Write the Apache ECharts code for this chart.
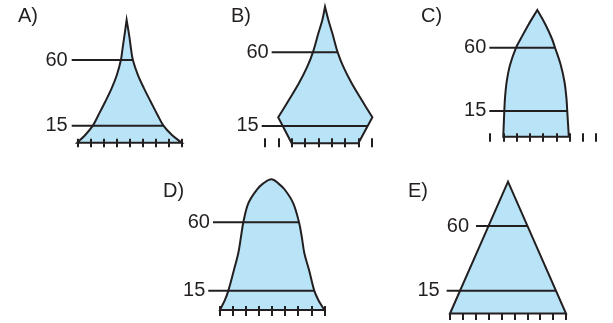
<!DOCTYPE html>
<html>
<head>
<meta charset="utf-8">
<script src="https://cdn.jsdelivr.net/npm/echarts@6/dist/echarts.min.js"></script>
<style>
  html, body { margin: 0; padding: 0; background: #fff; }
  #chart { width: 613px; height: 323px; }
</style>
</head>
<body>
<div id="chart"></div>
<script>
// age marks shown on every pyramid
const ageMarks = ['15', '60'];

// A - height (0 = base, 100 = top) and left / right edge (population units)
const heightA = [0, 6.3, 13.9, 22.6, 33.4, 44.3, 55.2, 67.4, 76.9, 87.8, 100];
const leftA = [0, 0.61, 1.19, 1.62, 2.14, 2.63, 3.03, 3.34, 3.47, 3.62, 3.78];
const rightA = [8, 7.25, 6.6, 6.15, 5.63, 5.11, 4.64, 4.26, 4.11, 3.97, 3.78];
const levelA = [13.9, 67.4];

// B
const heightB = [0, 19.0, 31.7, 43.9, 56.1, 66.6, 80.5, 90.3, 100];
const leftB = [2.0, 0.99, 1.79, 2.54, 3.17, 3.59, 4.00, 4.30, 4.5];
const rightB = [7.0, 8.05, 7.25, 6.50, 5.87, 5.45, 5.05, 4.75, 4.5];
const levelB = [12.7, 66.6];

// C
const heightC = [0, 20.3, 30.3, 43.4, 56.6, 70.2, 77.7, 88.2, 100];
const leftC = [1.0, 1.08, 1.13, 1.26, 1.51, 1.96, 2.34, 2.89, 3.57];
const rightC = [5.95, 5.83, 5.77, 5.62, 5.34, 4.91, 4.66, 4.20, 3.57];
const levelC = [20.3, 70.2];

// D
const heightD = [0, 7.7, 14.8, 30.6, 43.4, 56.1, 67.1, 81.6, 91.8, 96.9, 100];
const leftD = [0, 0.38, 0.64, 1.07, 1.40, 1.61, 1.79, 2.17, 2.81, 3.32, 3.95];
const rightD = [8, 7.54, 7.23, 6.83, 6.47, 6.27, 6.06, 5.62, 4.99, 4.47, 3.95];
const levelD = [14.8, 67.1];

// E
const heightE = [0, 100];
const leftE = [0, 4.5];
const rightE = [9, 4.5];
const levelE = [17.3, 66.4];

const ink = '#231f20';
const skyFill = '#b9e3f7';
const font = '20px "Liberation Sans", Arial, sans-serif';

const panels = [
  { name: 'A)', h: heightA, left: leftA, right: rightA, levels: levelA, ticks: 8,
    grid: { left: 77.3, top: 20, width: 104.4, height: 122.7 },
    tickOffset: -4, tickLen: 8.5, guideFrom: [-0.43, -0.43], labelGap: 4, title: [18, 16] },
  { name: 'B)', h: heightB, left: leftB, right: rightB, levels: levelB, ticks: 8, kinks: [1],
    grid: { left: 265, top: 6.7, width: 106.7, height: 136.6 },
    tickOffset: -5, tickLen: 9, guideFrom: [-0.25, 0.5], labelGap: 3, title: [231, 16] },
  { name: 'C)', h: heightC, left: leftC, right: rightC, levels: levelC, ticks: 8,
    grid: { left: 490, top: 10, width: 106, height: 126.7 },
    tickOffset: -3.5, tickLen: 8.5, guideFrom: [-0.05, -0.05], labelGap: 3, title: [421, 16.5] },
  { name: 'D)', h: heightD, left: leftD, right: rightD, levels: levelD, ticks: 8, roundTop: true,
    grid: { left: 220, top: 179.3, width: 104.3, height: 130.7 },
    tickOffset: -4, tickLen: 10, guideFrom: [-0.9, -0.54], labelGap: 3, title: [163, 191] },
  { name: 'E)', h: heightE, left: leftE, right: rightE, levels: levelE, ticks: 9,
    grid: { left: 450, top: 181.7, width: 116, height: 131.8 },
    tickOffset: 0, tickLen: 6.5, guideFrom: [-0.26, 2.02], labelGap: 7, title: [408, 191] }
];

function interp(hs, xs, y) {
  for (let i = 1; i < hs.length; i++) {
    if (y <= hs[i]) {
      const t = (y - hs[i - 1]) / (hs[i] - hs[i - 1]);
      return xs[i - 1] + t * (xs[i] - xs[i - 1]);
    }
  }
  return xs[xs.length - 1];
}

function makeRender(p) {
  return function (params, api) {
    const pts = [];
    const n = p.h.length;
    // doubled points keep the corners sharp when the outline is smoothed
    const sharp = i => i === 0 || (p.kinks || []).indexOf(i) >= 0;
    for (let i = 0; i < n; i++) {
      const pt = api.coord([p.left[i], p.h[i]]);
      pts.push(pt);
      if (sharp(i)) pts.push(pt.slice());
    }
    for (let i = n - 1; i >= 0; i--) {
      if (i === n - 1 && p.roundTop) continue;
      const pt = api.coord([p.right[i], p.h[i]]);
      pts.push(pt);
      if (sharp(i)) pts.push(pt.slice());
    }
    const children = [{
      type: 'polygon',
      shape: { points: pts, smooth: 0.35 },
      style: { fill: skyFill, stroke: ink, lineWidth: 2, lineJoin: 'miter' }
    }];
    p.levels.forEach((lv, k) => {
      const a = api.coord([p.guideFrom[k], lv]);
      const b = api.coord([interp(p.h, p.right, lv), lv]);
      children.push({
        type: 'line',
        shape: { x1: a[0], y1: a[1], x2: b[0], y2: b[1] },
        style: { stroke: ink, lineWidth: 2 }
      });
      children.push({
        type: 'text', x: a[0] - p.labelGap, y: a[1],
        style: { text: ageMarks[k], font: font, fill: ink,
          align: 'right', textAlign: 'right', verticalAlign: 'middle', textVerticalAlign: 'middle' }
      });
    });
    return { type: 'group', children: children };
  };
}

const chart = echarts.init(document.getElementById('chart'));
chart.setOption({
  animation: false,
  backgroundColor: '#fff',
  grid: panels.map(p => Object.assign({}, p.grid)),
  xAxis: panels.map((p, i) => ({
    gridIndex: i, type: 'value', min: 0, max: p.ticks, interval: 1,
    offset: p.tickOffset, z: 5,
    axisLine: { show: false, onZero: false },
    axisTick: { show: true, length: p.tickLen, lineStyle: { color: ink, width: 2 } },
    axisLabel: { show: false },
    splitLine: { show: false }
  })),
  yAxis: panels.map((p, i) => ({ gridIndex: i, type: 'value', min: 0, max: 100, show: false })),
  series: panels.map((p, i) => ({
    type: 'custom', coordinateSystem: 'cartesian2d', xAxisIndex: i, yAxisIndex: i,
    clip: false, silent: true, z: 2,
    data: [[0, 0]],
    renderItem: makeRender(p)
  })),
  graphic: panels.map(p => ({
    type: 'text', x: p.title[0], y: p.title[1],
    style: { text: p.name, font: font, fill: ink, verticalAlign: 'middle', textVerticalAlign: 'middle' }
  }))
});
</script>
</body>
</html>
